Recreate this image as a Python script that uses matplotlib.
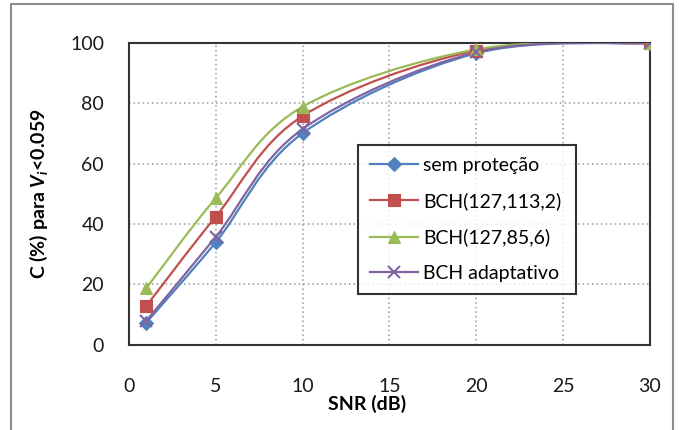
import matplotlib.pyplot as plt
from matplotlib.path import Path
from matplotlib.patches import PathPatch
from matplotlib.lines import Line2D

plt.rcParams['font.family'] = ['Lato', 'DejaVu Sans']
plt.rcParams['mathtext.fontset'] = 'custom'
plt.rcParams['mathtext.it'] = 'Lato:italic:bold'
plt.rcParams['mathtext.rm'] = 'Lato:bold'

# Data
snr = [1, 5, 10, 20, 30]
sem_protecao = [7.4, 34.0, 70.1, 96.6, 100]
bch_113 = [12.9, 42.5, 75.8, 97.5, 100]
bch_85 = [18.8, 48.6, 78.9, 97.9, 100]
bch_adapt = [8.0, 35.8, 71.5, 96.9, 100]

labels = ["sem proteção", "BCH(127,113,2)", "BCH(127,85,6)", "BCH adaptativo"]
colors = ["#4F81BD", "#C0504D", "#9BBB59", "#8064A2"]
markers = ["D", "s", "^", "x"]
msizes = [7, 8, 9, 9]


def smooth_path(xs, ys):
    # Excel-like smoothed line: cubic bezier through the points
    verts = [(xs[0], ys[0])]
    codes = [Path.MOVETO]
    n = len(xs)
    for i in range(n - 1):
        x0, y0 = (xs[i - 1], ys[i - 1]) if i > 0 else (xs[i], ys[i])
        x1, y1 = xs[i], ys[i]
        x2, y2 = xs[i + 1], ys[i + 1]
        x3, y3 = (xs[i + 2], ys[i + 2]) if i + 2 < n else (x2, y2)
        c1 = (x1 + (x2 - x0) / 6, y1 + (y2 - y0) / 6)
        c2 = (x2 - (x3 - x1) / 6, y2 - (y3 - y1) / 6)
        verts += [c1, c2, (x2, y2)]
        codes += [Path.CURVE4] * 3
    return Path(verts, codes)


fig = plt.figure(figsize=(6.79, 4.30), dpi=100)
ax = fig.add_axes([0.19, 0.198, 0.767, 0.702])

series = [sem_protecao, bch_113, bch_85, bch_adapt]
handles = []
for ys, lab, c, m, ms in zip(series, labels, colors, markers, msizes):
    ax.add_patch(PathPatch(smooth_path(snr, ys), facecolor='none',
                           edgecolor=c, lw=1.6, zorder=3))
    ax.plot(snr, ys, linestyle='none', marker=m, color=c, markersize=ms,
            markeredgewidth=1.5 if m == 'x' else 0.8, zorder=4)
    handles.append(Line2D([], [], color=c, lw=1.6, marker=m, markersize=ms,
                          markeredgewidth=1.5 if m == 'x' else 0.8))

ax.set_xlim(0, 30)
ax.set_ylim(0, 100)
ax.set_xticks(range(0, 31, 5))
ax.set_yticks(range(0, 101, 20))
ax.tick_params(length=0, labelsize=14, colors='#1a1a1a')
ax.tick_params(axis='x', pad=24)
ax.tick_params(axis='y', pad=18)
ax.grid(True, linestyle=(0, (1, 2)), color='#999999', lw=1.1)
for s in ax.spines.values():
    s.set_color('#333333')
    s.set_linewidth(1.5)

ax.set_xlabel("SNR (dB)", fontsize=14, fontweight='bold')
ax.xaxis.set_label_coords(0.457, -0.165)
ax.set_ylabel(r"C (%) para $V_i$<0.059", fontsize=14, fontweight='bold')
ax.yaxis.set_label_coords(-0.152, 0.5)

leg = ax.legend(handles, labels, loc='upper left',
                bbox_to_anchor=(0.44, 0.169, 0.418, 0.493), mode='expand',
                borderaxespad=0,
                fontsize=14, frameon=True, fancybox=False, edgecolor='black',
                handlelength=2.5, labelspacing=0.95, borderpad=0.6,
                handletextpad=0.25)
leg.get_frame().set_linewidth(1.5)

# outer chart border
fig.add_artist(Line2D([0.0162, 0.0162, 0.991, 0.991], [0.0, 0.9907, 0.9907, 0.0],
                      transform=fig.transFigure, color='#8c8c8c', lw=1.5))

fig.savefig("out.png", dpi=100)
